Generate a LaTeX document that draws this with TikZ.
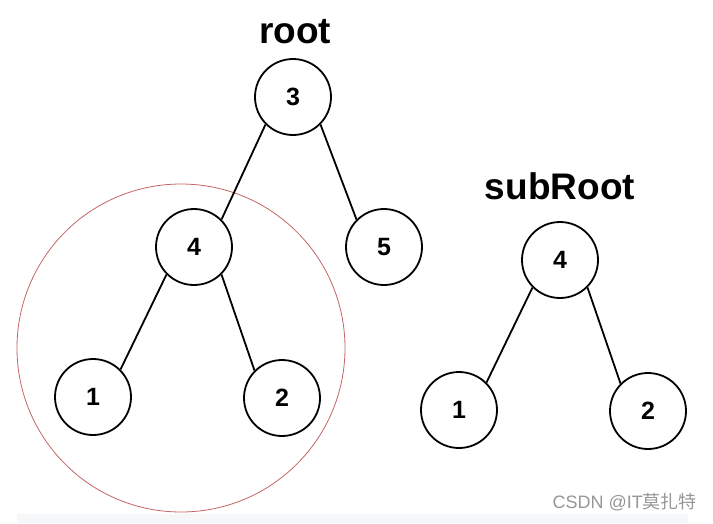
\documentclass[tikz,border=0pt]{standalone}
\usepackage{fontspec}
\setmainfont{Liberation Sans}
\newfontfamily\cjkfont{Noto Sans CJK SC}
\begin{document}
\begin{tikzpicture}[x=1pt,y=-1pt,
  tnode/.style={circle,draw=black,line width=1.8pt,minimum size=76pt,inner sep=0pt,font=\bfseries\fontsize{25}{25}\selectfont},
  edge/.style={line width=1.8pt,draw=black},
  lbl/.style={font=\bfseries\fontsize{37}{37}\selectfont,inner sep=0pt}]
\useasboundingbox (0,0) rectangle (713,523);
\fill[fill={rgb,255:red,246;green,247;blue,248}] (17,514) rectangle (688,523);
\node[draw={rgb,255:red,196;green,100;blue,100},line width=0.8pt,circle,minimum size=328pt,inner sep=0pt] (hl) at (181,348) {};
\node[lbl] (root) at (295,32) {root};
\node[tnode] (n3) at (293,97) {3};
\node[tnode] (n4) at (194,247) {4};
\node[tnode] (n5) at (384,247) {5};
\node[tnode] (n1) at (93,397) {1};
\node[tnode] (n2) at (282,398) {2};
\draw[edge] (n3.south west) -- (n4.north east);
\draw[edge] (n3.south east) -- (n5.north west);
\draw[edge] (n4.south west) -- (n1.north east);
\draw[edge] (n4.south east) -- (n2.north west);
\node[lbl] (sub) at (560,186) {subRoot};
\node[tnode] (s4) at (560,260) {4};
\node[tnode] (s1) at (459,410) {1};
\node[tnode] (s2) at (648,411) {2};
\draw[edge] (s4.south west) -- (s1.north east);
\draw[edge] (s4.south east) -- (s2.north west);
\node[anchor=east,inner sep=0pt,text={rgb,255:red,150;green,150;blue,150},font=\fontsize{18}{18}\selectfont] (wm) at (697,502) {CSDN @IT{\cjkfont 莫扎特}};
\end{tikzpicture}
\end{document}
